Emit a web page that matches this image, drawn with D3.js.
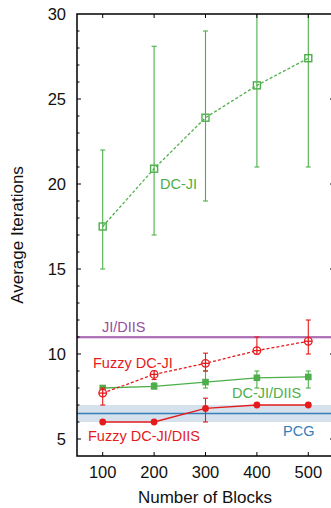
<!DOCTYPE html>
<html>
<head>
<meta charset="utf-8">
<script src="https://cdn.jsdelivr.net/npm/d3@7"></script>
<style>
  html, body { margin: 0; padding: 0; background: #fff; }
  svg { display: block; font-family: "Liberation Sans", Arial, Helvetica, sans-serif; }
</style>
</head>
<body>
<svg id="chart" width="331" height="508"></svg>
<script>
// Block counts on the x axis
const blocks = [100, 200, 300, 400, 500];
const xTicks = [100, 200, 300, 400, 500];
const yTicks = [5, 10, 15, 20, 25, 30];

// DC-JI (open squares, dashed)
const dcJi = [17.5, 20.9, 23.9, 25.8, 27.4];
const dcJiLo = [15.0, 17.0, 19.0, 21.0, 21.0];
const dcJiHi = [22.0, 28.1, 29.0, 31.0, 31.0];

// Fuzzy DC-JI (open circles, dashed)
const fuzzyDcJi = [7.7, 8.8, 9.45, 10.2, 10.75];
const fuzzyDcJiLo = [7.0, 8.5, 9.0, 10.0, 10.0];
const fuzzyDcJiHi = [8.0, 9.0, 10.05, 11.0, 12.0];

// DC-JI/DIIS (filled squares, solid)
const dcJiDiis = [8.0, 8.1, 8.35, 8.6, 8.65];
const dcJiDiisLo = [8.0, 7.95, 8.0, 8.0, 8.0];
const dcJiDiisHi = [8.1, 8.3, 9.0, 9.0, 9.0];

// Fuzzy DC-JI/DIIS (filled circles, solid)
const fuzzyDcJiDiis = [6.0, 6.0, 6.8, 7.0, 7.0];
const fuzzyDcJiDiisLo = [6.0, 6.0, 6.0, 7.0, 7.0];
const fuzzyDcJiDiisHi = [6.0, 6.0, 7.4, 7.0, 7.0];

// Reference levels
const jiDiis = 11.0;
const jiDiisBand = [10.88, 11.0];
const pcg = 6.5;
const pcgBand = [6.0, 7.0];

const green = "#4daf4a", red = "#e41a1c", blue = "#377eb8", purple = "#984ea3";

const svg = d3.select("#chart");
const m = { left: 77, top: 14, right: 334, bottom: 456 };

const x = d3.scaleLinear().domain([50, 550]).range([m.left, m.right]);
const y = d3.scaleLinear().domain([4, 30]).range([m.bottom, m.top]);

const plot = svg.append("g");
svg.append("clipPath").attr("id", "plotclip")
  .append("rect").attr("x", m.left).attr("y", m.top)
  .attr("width", m.right - m.left).attr("height", m.bottom - m.top);
const inner = plot.append("g").attr("clip-path", "url(#plotclip)");

// PCG band and line
inner.append("rect")
  .attr("x", m.left).attr("width", m.right - m.left)
  .attr("y", y(pcgBand[1])).attr("height", y(pcgBand[0]) - y(pcgBand[1]))
  .attr("fill", "#d5e2ee");
inner.append("line")
  .attr("x1", m.left).attr("x2", m.right)
  .attr("y1", y(pcg)).attr("y2", y(pcg))
  .attr("stroke", blue).attr("stroke-width", 1.3);

// JI/DIIS band and line
inner.append("rect")
  .attr("x", m.left).attr("width", m.right - m.left)
  .attr("y", y(jiDiisBand[1])).attr("height", y(jiDiisBand[0]) - y(jiDiisBand[1]))
  .attr("fill", "#e6cfe9");
inner.append("line")
  .attr("x1", m.left).attr("x2", m.right)
  .attr("y1", y(jiDiis)).attr("y2", y(jiDiis))
  .attr("stroke", purple).attr("stroke-width", 1.3);

function errorBars(lo, hi, color) {
  const g = inner.append("g").attr("stroke", color).attr("stroke-width", 1.1);
  blocks.forEach((b, i) => {
    if (hi[i] - lo[i] <= 0) return;
    const cx = x(b);
    g.append("line").attr("x1", cx).attr("x2", cx).attr("y1", y(lo[i])).attr("y2", y(hi[i]));
    g.append("line").attr("x1", cx - 2.5).attr("x2", cx + 2.5).attr("y1", y(lo[i])).attr("y2", y(lo[i]));
    g.append("line").attr("x1", cx - 2.5).attr("x2", cx + 2.5).attr("y1", y(hi[i])).attr("y2", y(hi[i]));
  });
}

function seriesLine(vals, color, dashed) {
  const line = d3.line().x((d, i) => x(blocks[i])).y(d => y(d));
  inner.append("path").datum(vals)
    .attr("d", line).attr("fill", "none")
    .attr("stroke", color).attr("stroke-width", 1.3)
    .attr("stroke-dasharray", dashed ? "3,2" : null);
}

// DC-JI
errorBars(dcJiLo, dcJiHi, green);
seriesLine(dcJi, green, true);
inner.append("g").selectAll("rect").data(dcJi).join("rect")
  .attr("x", (d, i) => x(blocks[i]) - 3.5).attr("y", d => y(d) - 3.5)
  .attr("width", 7).attr("height", 7)
  .attr("fill", "none").attr("stroke", green).attr("stroke-width", 1.4);

// DC-JI/DIIS
errorBars(dcJiDiisLo, dcJiDiisHi, green);
seriesLine(dcJiDiis, green, false);
inner.append("g").selectAll("rect").data(dcJiDiis).join("rect")
  .attr("x", (d, i) => x(blocks[i]) - 3.3).attr("y", d => y(d) - 3.3)
  .attr("width", 6.6).attr("height", 6.6)
  .attr("fill", green);

// Fuzzy DC-JI
errorBars(fuzzyDcJiLo, fuzzyDcJiHi, red);
seriesLine(fuzzyDcJi, red, true);
const fz = inner.append("g").attr("stroke", red).attr("stroke-width", 1.3).attr("fill", "#fff");
fuzzyDcJi.forEach((d, i) => {
  const cx = x(blocks[i]), cy = y(d);
  fz.append("circle").attr("cx", cx).attr("cy", cy).attr("r", 3.8);
  fz.append("line").attr("x1", cx - 3.8).attr("x2", cx + 3.8).attr("y1", cy).attr("y2", cy);
  fz.append("line").attr("x1", cx).attr("x2", cx).attr("y1", cy - 3.8).attr("y2", cy + 3.8);
});

// Fuzzy DC-JI/DIIS
errorBars(fuzzyDcJiDiisLo, fuzzyDcJiDiisHi, red);
seriesLine(fuzzyDcJiDiis, red, false);
inner.append("g").selectAll("circle").data(fuzzyDcJiDiis).join("circle")
  .attr("cx", (d, i) => x(blocks[i])).attr("cy", d => y(d)).attr("r", 3.4)
  .attr("fill", red);

// Frame and ticks
const axisG = svg.append("g").attr("stroke", "#000");
axisG.append("rect")
  .attr("x", m.left).attr("y", m.top)
  .attr("width", m.right - m.left).attr("height", m.bottom - m.top)
  .attr("fill", "none").attr("stroke-width", 1.5);

// y ticks: major every 5, minor every 1, on left (and majors on right)
d3.range(5, 30).forEach(v => {
  const major = v % 5 === 0;
  const len = major ? 4 : 2.5;
  axisG.append("line").attr("x1", m.left).attr("x2", m.left + len)
    .attr("y1", y(v)).attr("y2", y(v)).attr("stroke-width", 1);
  if (major) axisG.append("line").attr("x1", m.right).attr("x2", m.right - 4)
    .attr("y1", y(v)).attr("y2", y(v)).attr("stroke-width", 1);
});
xTicks.forEach(v => {
  axisG.append("line").attr("x1", x(v)).attr("x2", x(v))
    .attr("y1", m.top).attr("y2", m.top + 4).attr("stroke-width", 1);
  axisG.append("line").attr("x1", x(v)).attr("x2", x(v))
    .attr("y1", m.bottom).attr("y2", m.bottom - 4).attr("stroke-width", 1);
});

// Tick labels
svg.append("g").selectAll("text").data(yTicks).join("text")
  .attr("x", 66).attr("y", d => y(d)).attr("dy", "0.36em")
  .attr("text-anchor", "end").attr("font-size", 16.5).attr("fill", "#111")
  .text(d => d);
svg.append("g").selectAll("text").data(xTicks).join("text")
  .attr("x", d => x(d)).attr("y", 478)
  .attr("text-anchor", "middle").attr("font-size", 16.5).attr("fill", "#111")
  .text(d => d);

// Axis titles
svg.append("text").attr("x", (m.left + 331) / 2 + 1).attr("y", 503)
  .attr("text-anchor", "middle").attr("font-size", 17).attr("fill", "#111")
  .text("Number of Blocks");
svg.append("text")
  .attr("transform", `translate(23,${(m.top + m.bottom) / 2}) rotate(-90)`)
  .attr("text-anchor", "middle").attr("font-size", 17).attr("fill", "#111")
  .text("Average Iterations");

// Series labels
const labels = [
  { t: "DC-JI", x: 160, y: 189, c: green },
  { t: "JI/DIIS", x: 102, y: 332, c: purple },
  { t: "Fuzzy DC-JI", x: 93, y: 368, c: red },
  { t: "DC-JI/DIIS", x: 232, y: 398, c: green },
  { t: "Fuzzy DC-JI/DIIS", x: 88, y: 441, c: red },
  { t: "PCG", x: 283, y: 436, c: blue }
];
svg.append("g").selectAll("text").data(labels).join("text")
  .attr("x", d => d.x).attr("y", d => d.y)
  .attr("font-size", 14.5).attr("fill", d => d.c)
  .text(d => d.t);
</script>
</body>
</html>
